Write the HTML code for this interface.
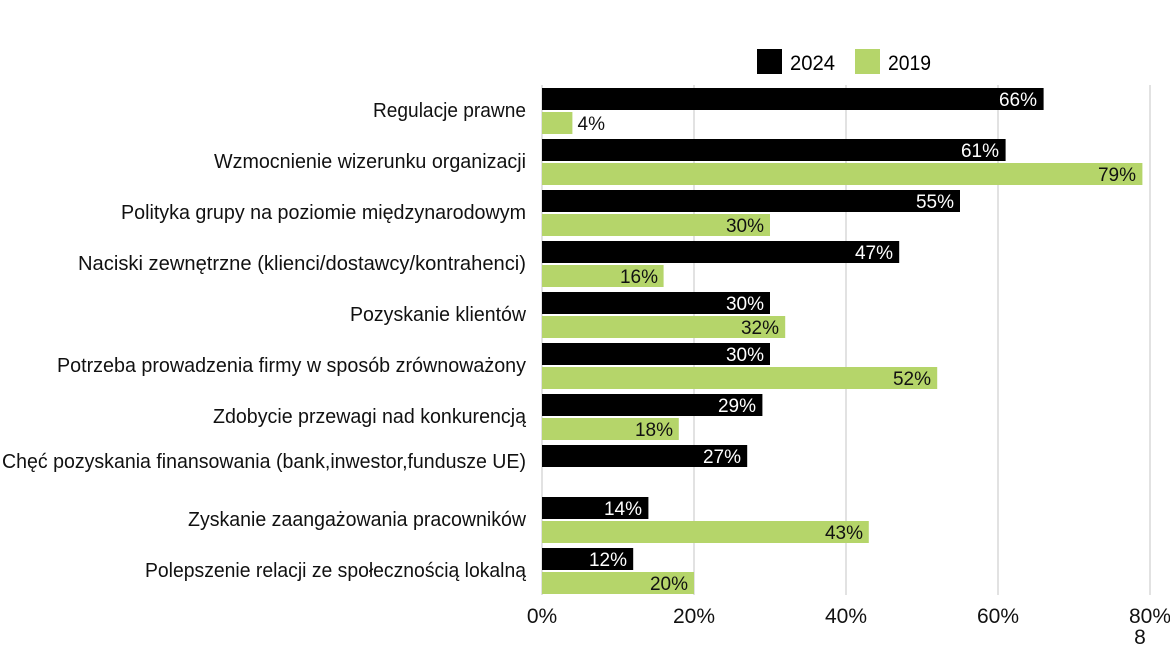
<!DOCTYPE html>
<html><head><meta charset="utf-8"><style>
html,body{margin:0;padding:0;background:#fff;}
svg{display:block;font-family:"Liberation Sans Narrow","Liberation Sans",sans-serif;}
</style></head><body>
<svg width="1170" height="658" viewBox="0 0 1170 658" xmlns="http://www.w3.org/2000/svg">
<g stroke="#d9d9d9" stroke-width="1.5">
<line x1="694" y1="85" x2="694" y2="595"/>
<line x1="846" y1="85" x2="846" y2="595"/>
<line x1="998" y1="85" x2="998" y2="595"/>
<line x1="1150" y1="85" x2="1150" y2="595"/>
<line x1="542" y1="85" x2="542" y2="595"/>
</g>
<rect x="757" y="49" width="25" height="25" fill="#000"/>
<text x="790" y="70" font-size="21" textLength="45" lengthAdjust="spacingAndGlyphs">2024</text>
<rect x="855" y="49" width="25" height="25" fill="#b5d56a"/>
<text x="888" y="70" font-size="21" textLength="43" lengthAdjust="spacingAndGlyphs">2019</text>
<g font-size="20" text-anchor="end" fill="#111">
<text x="526" y="117" textLength="153" lengthAdjust="spacingAndGlyphs">Regulacje prawne</text>
<text x="526" y="168" textLength="312" lengthAdjust="spacingAndGlyphs">Wzmocnienie wizerunku organizacji</text>
<text x="526" y="219" textLength="405" lengthAdjust="spacingAndGlyphs">Polityka grupy na poziomie międzynarodowym</text>
<text x="526" y="270" textLength="448" lengthAdjust="spacingAndGlyphs">Naciski zewnętrzne (klienci/dostawcy/kontrahenci)</text>
<text x="526" y="321" textLength="176" lengthAdjust="spacingAndGlyphs">Pozyskanie klientów</text>
<text x="526" y="372" textLength="469" lengthAdjust="spacingAndGlyphs">Potrzeba prowadzenia firmy w sposób zrównoważony</text>
<text x="526" y="423" textLength="313" lengthAdjust="spacingAndGlyphs">Zdobycie przewagi nad konkurencją</text>
<text x="526" y="468" textLength="524" lengthAdjust="spacingAndGlyphs">Chęć pozyskania finansowania (bank,inwestor,fundusze UE)</text>
<text x="526" y="526" textLength="338" lengthAdjust="spacingAndGlyphs">Zyskanie zaangażowania pracowników</text>
<text x="526" y="577" textLength="381" lengthAdjust="spacingAndGlyphs">Polepszenie relacji ze społecznością lokalną</text>
</g>
<g font-size="19" text-anchor="end">
<rect x="542" y="88" width="501.6" height="22" fill="#000"/><text x="1037" y="106" fill="#fff">66%</text>
<rect x="542" y="112" width="30.4" height="22" fill="#b5d56a"/><text x="605" y="130" fill="#111">4%</text>
<rect x="542" y="139" width="463.6" height="22" fill="#000"/><text x="999" y="157" fill="#fff">61%</text>
<rect x="542" y="163" width="600.4" height="22" fill="#b5d56a"/><text x="1136" y="181" fill="#111">79%</text>
<rect x="542" y="190" width="418" height="22" fill="#000"/><text x="954" y="208" fill="#fff">55%</text>
<rect x="542" y="214" width="228" height="22" fill="#b5d56a"/><text x="764" y="232" fill="#111">30%</text>
<rect x="542" y="241" width="357.2" height="22" fill="#000"/><text x="893" y="259" fill="#fff">47%</text>
<rect x="542" y="265" width="121.6" height="22" fill="#b5d56a"/><text x="658" y="283" fill="#111">16%</text>
<rect x="542" y="292" width="228" height="22" fill="#000"/><text x="764" y="310" fill="#fff">30%</text>
<rect x="542" y="316" width="243.2" height="22" fill="#b5d56a"/><text x="779" y="334" fill="#111">32%</text>
<rect x="542" y="343" width="228" height="22" fill="#000"/><text x="764" y="361" fill="#fff">30%</text>
<rect x="542" y="367" width="395.2" height="22" fill="#b5d56a"/><text x="931" y="385" fill="#111">52%</text>
<rect x="542" y="394" width="220.4" height="22" fill="#000"/><text x="756" y="412" fill="#fff">29%</text>
<rect x="542" y="418" width="136.8" height="22" fill="#b5d56a"/><text x="673" y="436" fill="#111">18%</text>
<rect x="542" y="445" width="205.2" height="22" fill="#000"/><text x="741" y="463" fill="#fff">27%</text>
<rect x="542" y="497" width="106.4" height="22" fill="#000"/><text x="642" y="515" fill="#fff">14%</text>
<rect x="542" y="521" width="326.8" height="22" fill="#b5d56a"/><text x="863" y="539" fill="#111">43%</text>
<rect x="542" y="548" width="91.2" height="22" fill="#000"/><text x="627" y="566" fill="#fff">12%</text>
<rect x="542" y="572" width="152" height="22" fill="#b5d56a"/><text x="688" y="590" fill="#111">20%</text>
</g>
<g font-size="21" text-anchor="middle" fill="#111">
<text x="542" y="623">0%</text>
<text x="694" y="623">20%</text>
<text x="846" y="623">40%</text>
<text x="998" y="623">60%</text>
<text x="1150" y="623">80%</text>
<text x="1140" y="644">8</text>
</g>
</svg>
</body></html>
